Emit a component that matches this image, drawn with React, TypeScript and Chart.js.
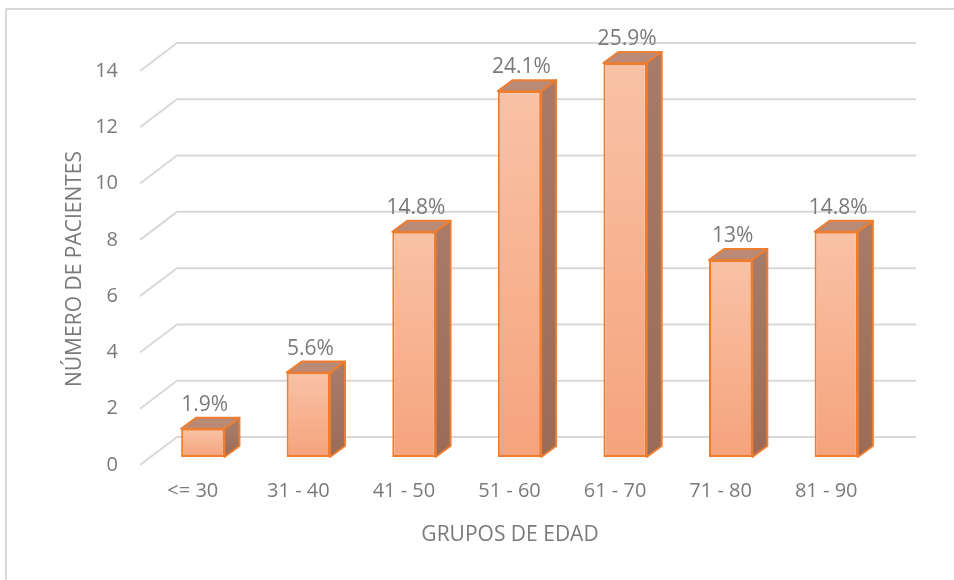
import React, { useEffect, useRef } from "react";
import { Chart, registerables } from "chart.js";

Chart.register(...registerables);

const categories = ["<= 30", "31 - 40", "41 - 50", "51 - 60", "61 - 70", "71 - 80", "81 - 90"];
const patients = [1, 3, 8, 13, 14, 7, 8];
const percentLabels = ["1.9%", "5.6%", "14.8%", "24.1%", "25.9%", "13%", "14.8%"];
const yTitle = "NÚMERO DE PACIENTES";
const xTitle = "GRUPOS DE EDAD";

const FONT = "'Open Sans', 'Liberation Sans', sans-serif";
const TEXT = "#7a7a7a";
const GRID = "#d9d9d9";
const ORANGE = "#ed7d31";

// perspective of the 3D look
const WALL_DX = 27; // from bar plane to back wall
const WALL_DY = 20;
const FLOOR_DX = 10; // from bar plane to front plane
const FLOOR_DY = 8;
const BAR_DX = 15; // bar depth
const BAR_DY = 11;

const depthPlugin = {
  id: "depth3d",
  beforeDraw(chart: any) {
    const { ctx } = chart;
    ctx.save();
    ctx.fillStyle = "#ffffff";
    ctx.fillRect(0, 0, chart.width, chart.height);
    // outer frame
    ctx.strokeStyle = GRID;
    ctx.lineWidth = 2;
    ctx.beginPath();
    ctx.moveTo(6, chart.height + 5);
    ctx.lineTo(6, 9);
    ctx.lineTo(chart.width + 5, 9);
    ctx.stroke();
    ctx.restore();
  },
  beforeDatasetsDraw(chart: any) {
    const { ctx, chartArea } = chart;
    const y = chart.scales.y;
    ctx.save();
    ctx.strokeStyle = GRID;
    ctx.lineWidth = 2;
    for (const t of y.ticks) {
      const py = y.getPixelForValue(t.value);
      ctx.beginPath();
      ctx.moveTo(chartArea.left - FLOOR_DX, py + FLOOR_DY);
      ctx.lineTo(chartArea.left + WALL_DX, py - WALL_DY);
      ctx.lineTo(chartArea.right + WALL_DX, py - WALL_DY);
      ctx.stroke();
    }
    ctx.restore();
  },
  afterDatasetsDraw(chart: any) {
    const { ctx } = chart;
    const meta = chart.getDatasetMeta(0);
    ctx.save();
    ctx.lineJoin = "round";
    ctx.lineWidth = 2;
    ctx.strokeStyle = ORANGE;
    meta.data.forEach((bar: any, i: number) => {
      const { x, y, base, width } = bar.getProps(["x", "y", "base", "width"], true);
      const l = x - width / 2;
      const r = x + width / 2;
      // top face
      ctx.fillStyle = "#b98b77";
      ctx.beginPath();
      ctx.moveTo(l, y);
      ctx.lineTo(l + BAR_DX, y - BAR_DY);
      ctx.lineTo(r + BAR_DX, y - BAR_DY);
      ctx.lineTo(r, y);
      ctx.closePath();
      ctx.fill();
      ctx.stroke();
      // side face
      const g = ctx.createLinearGradient(0, y, 0, base);
      g.addColorStop(0, "#a77b67");
      g.addColorStop(1, "#9a6c58");
      ctx.fillStyle = g;
      ctx.beginPath();
      ctx.moveTo(r, y);
      ctx.lineTo(r + BAR_DX, y - BAR_DY);
      ctx.lineTo(r + BAR_DX, base - BAR_DY);
      ctx.lineTo(r, base);
      ctx.closePath();
      ctx.fill();
      ctx.stroke();
      // value label
      ctx.fillStyle = TEXT;
      ctx.font = `21px ${FONT}`;
      ctx.textAlign = "center";
      ctx.textBaseline = "middle";
      ctx.fillText(percentLabels[i], x + 2, y - BAR_DY - 13);
    });
    ctx.restore();
  },
  afterDraw(chart: any) {
    const { ctx } = chart;
    ctx.save();
    ctx.fillStyle = TEXT;
    ctx.font = `21px ${FONT}`;
    ctx.textAlign = "center";
    ctx.textBaseline = "middle";
    ctx.fillText(xTitle, 510, 535);
    ctx.translate(75, 269);
    ctx.rotate(-Math.PI / 2);
    ctx.fillText(yTitle, 0, 0);
    ctx.restore();
  },
};

export default function App() {
  const ref = useRef<HTMLCanvasElement>(null);
  useEffect(() => {
    if (!ref.current) return;
    const chart = new Chart(ref.current, {
      type: "bar",
      data: {
        labels: categories,
        datasets: [
          {
            data: patients,
            backgroundColor: (c: any) => {
              const ch = c.chart;
              const ys = ch.scales?.y;
              if (!ys || c.raw === undefined) return "#f7b493";
              const top = ys.getPixelForValue(c.raw);
              const bottom = ys.getPixelForValue(0);
              if (!Number.isFinite(top) || !Number.isFinite(bottom) || top === bottom) return "#f7b493";
              const g = ch.ctx.createLinearGradient(0, top, 0, bottom);
              g.addColorStop(0, "#f9c2a6");
              g.addColorStop(1, "#f5a37c");
              return g;
            },
            borderColor: ORANGE,
            borderWidth: 2,
            borderSkipped: false,
            categoryPercentage: 1,
            barPercentage: 0.41,
          },
        ],
      },
      options: {
        responsive: false,
        animation: false,
        layout: { padding: { top: 63, right: 65, left: 0, bottom: 0 } },
        plugins: { legend: { display: false }, tooltip: { enabled: false } },
        scales: {
          x: {
            grid: { display: false, drawTicks: false },
            border: { display: false },
            ticks: { color: TEXT, font: { family: FONT, size: 20 }, padding: 22, labelOffset: -10 },
            afterFit: (s: any) => {
              s.height = 123;
            },
          },
          y: {
            min: 0,
            max: 14,
            grid: { display: false, drawTicks: false },
            border: { display: false },
            ticks: { stepSize: 2, color: TEXT, font: { family: FONT, size: 20 }, padding: 32, labelOffset: 8 },
            afterFit: (s: any) => {
              s.width = 150;
            },
          },
        },
      },
      plugins: [depthPlugin],
    });
    return () => chart.destroy();
  }, []);
  return (
    <div style={{ position: "absolute", left: 0, top: 0 }}>
      <canvas ref={ref} width={954} height={580} style={{ display: "block" }} />
    </div>
  );
}
